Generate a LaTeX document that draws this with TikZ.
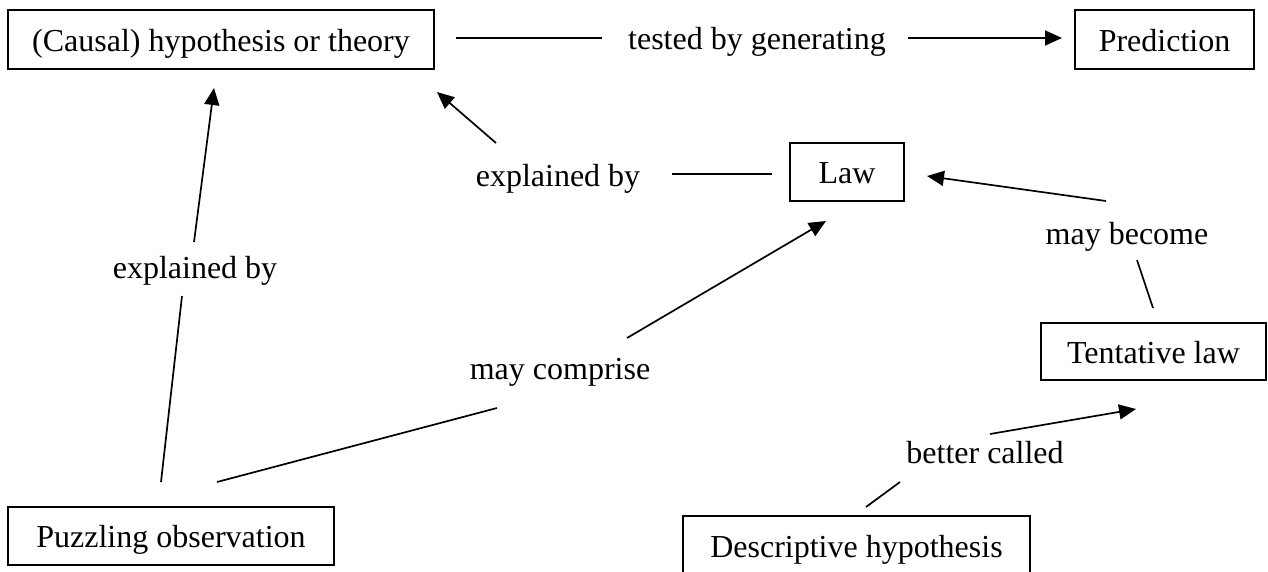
\documentclass[tikz,border=0pt]{standalone}
\usepackage{fontspec}
\setmainfont{Liberation Serif}
\usetikzlibrary{arrows.meta}
\begin{document}
\begin{tikzpicture}[x=1pt,y=-1pt,
  box/.style={draw, line width=1.8pt, inner sep=0pt, text height=23pt, text depth=0pt, font=\fontsize{32}{38}\selectfont},
  lbl/.style={inner sep=0pt, anchor=base, font=\fontsize{32}{38}\selectfont},
  conn/.style={line width=1.7pt},
  arr/.style={conn, -{Triangle[length=17pt,width=15pt]}}]
\useasboundingbox (0,0) rectangle (1268,571);
\fill[white] (0,0) rectangle (1268,571);
% boxes
\node[box, minimum width=426pt, minimum height=59pt] (cause) at (221,39.5) {(Causal) hypothesis or theory};
\node[box, minimum width=179pt, minimum height=59pt] (pred) at (1164.5,39.5) {Prediction};
\node[box, minimum width=114pt, minimum height=58pt] (law) at (847,172) {Law};
\node[box, minimum width=225pt, minimum height=57pt] (tent) at (1153.5,351.5) {Tentative law};
\node[box, minimum width=326pt, minimum height=58pt] (puzz) at (171,536) {Puzzling observation};
\node[box, minimum width=347pt, minimum height=59pt] (desc) at (856.5,545.5) {Descriptive hypothesis};
% labels
\node[lbl] (tested) at (757,49) {tested by generating};
\node[lbl] (explA) at (558,186) {explained by};
\node[lbl] (explB) at (195,278) {explained by};
\node[lbl] (compr) at (560,379) {may comprise};
\node[lbl] (becom) at (1127,244) {may become};
\node[lbl] (bettr) at (985,463) {better called};
% connector end points
\coordinate (t1) at (456,38); \coordinate (t2) at (602,38);
\coordinate (t3) at (908,38); \coordinate (t4) at (1062,38);
\coordinate (e1) at (772,174); \coordinate (e2) at (672,174);
\coordinate (e3) at (496,143); \coordinate (e4) at (437,92);
\coordinate (l1) at (161,482); \coordinate (l2) at (182,296);
\coordinate (l3) at (194,242); \coordinate (l4) at (214,88);
\coordinate (m1) at (217,482); \coordinate (m2) at (497,408);
\coordinate (m3) at (627,338); \coordinate (m4) at (826,221);
\coordinate (b1) at (1153,308); \coordinate (b2) at (1137,260);
\coordinate (b3) at (1106,201); \coordinate (b4) at (927,176);
\coordinate (c1) at (866,507); \coordinate (c2) at (900,482);
\coordinate (c3) at (990,434); \coordinate (c4) at (1136,409);
% connectors
\draw[conn] (t1) -- (t2);
\draw[arr] (t3) -- (t4);
\draw[conn] (e1) -- (e2);
\draw[arr] (e3) -- (e4);
\draw[conn] (l1) -- (l2);
\draw[arr] (l3) -- (l4);
\draw[conn] (m1) -- (m2);
\draw[arr] (m3) -- (m4);
\draw[conn] (b1) -- (b2);
\draw[arr] (b3) -- (b4);
\draw[conn] (c1) -- (c2);
\draw[arr] (c3) -- (c4);
\end{tikzpicture}
\end{document}
